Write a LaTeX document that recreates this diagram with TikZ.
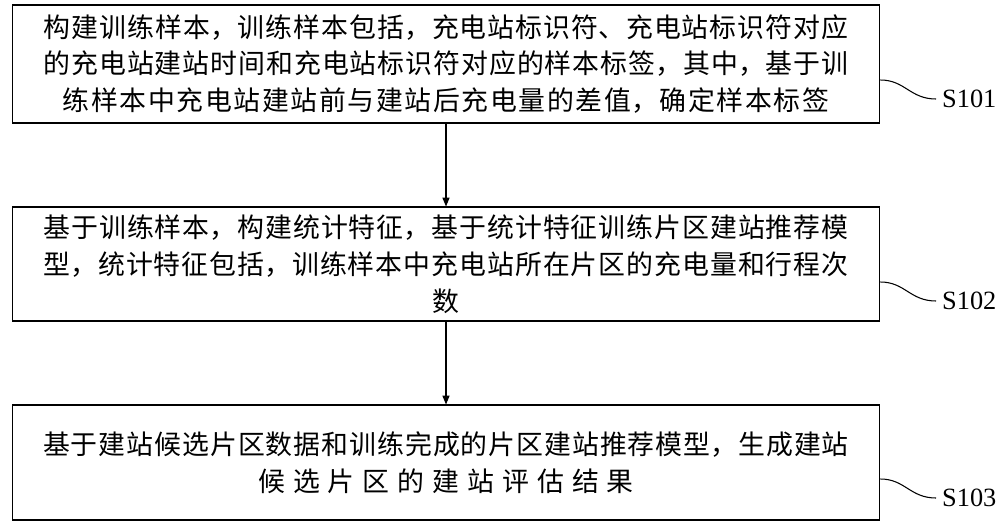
\documentclass[tikz,border=0pt]{standalone}
\usepackage{fontspec}
\setmainfont{Liberation Serif}
\newfontfamily\cjk{Noto Sans CJK SC}
\XeTeXlinebreaklocale "zh"
\XeTeXlinebreakskip=0pt plus 1pt
\usetikzlibrary{arrows.meta}
\begin{document}
\begin{tikzpicture}[x=0.02cm,y=-0.02cm,
  stepbox/.style={draw,line width=0.6pt,minimum width=17.36cm,inner sep=0pt,text width=17.3cm,align=center,font=\cjk\fontsize{15.3}{21}\selectfont},
  arr/.style={-{Triangle[length=5pt,width=4pt]},line width=0.6pt},
  lab/.style={font=\fontsize{15}{18}\selectfont,anchor=west}]
\useasboundingbox (0,0) rectangle (1000,531);
\node[stepbox,minimum height=2.36cm] (b1) at (446,64) {构建训练样本，训练样本包括，充电站标识符、充电站标识符对应\\的充电站建站时间和充电站标识符对应的样本标签，其中，基于训\\练样本中充电站建站前与建站后充电量的差值，确定样本标签};
\node[stepbox,minimum height=2.28cm] (b2) at (446,264) {基于训练样本，构建统计特征，基于统计特征训练片区建站推荐模\\型，统计特征包括，训练样本中充电站所在片区的充电量和行程次\\数};
\node[stepbox,minimum height=2.3cm] (b3) at (446,462.5) {基于建站候选片区数据和训练完成的片区建站推荐模型，生成建站\\候选片区的建站评估结果};
\draw[arr] (b1) -- (b2);
\draw[arr] (b2) -- (b3);
\node[lab] (l1) at (936,99) {S101};
\node[lab] (l2) at (936,301) {S102};
\node[lab] (l3) at (936,498) {S103};
\foreach \b/\l/\y in {b1/l1/80,b2/l2/282,b3/l3/479}
  \draw[line width=0.6pt] (b1.east |- 0,\y) .. controls (905,\y) and (910,{\y+19}) .. (\l.west);
\end{tikzpicture}
\end{document}
